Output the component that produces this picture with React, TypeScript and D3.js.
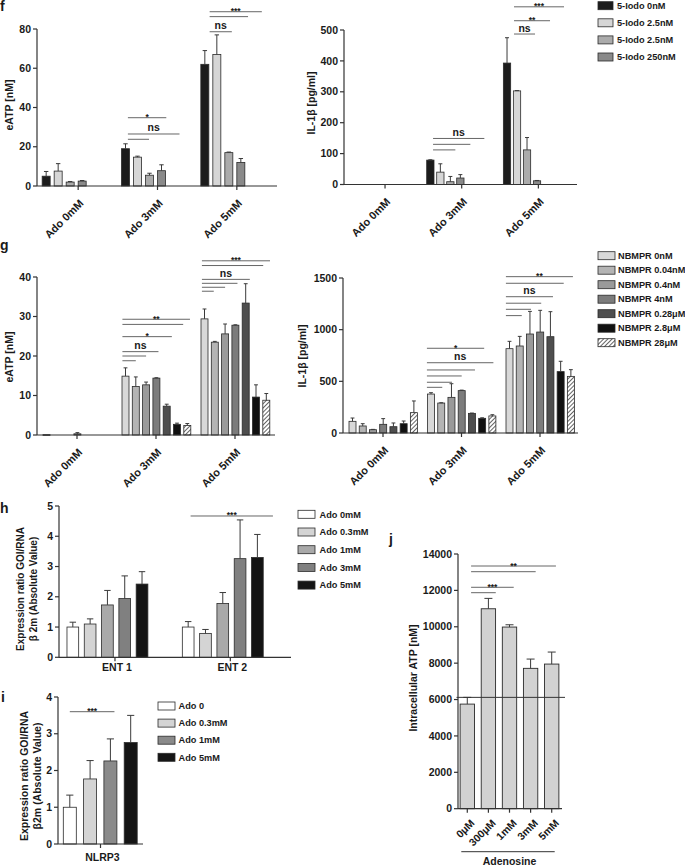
import React from "react";
import * as d3 from "d3";

// ---------------- data ----------------
const fGroups = ["Ado 0mM", "Ado 3mM", "Ado 5mM"];
const fSeries = ["5-Iodo 0nM", "5-Iodo 2.5nM", "5-Iodo 2.5nM", "5-Iodo 250nM"];
const fEatpMean = [
  [5, 7.6, 2, 2.5],
  [19, 14.7, 5.5, 7.8],
  [62, 67, 17, 12],
];
const fEatpErr = [
  [2.4, 3.8, 0.3, 0.3],
  [2.5, 0.5, 1, 3],
  [7, 10, 0.3, 2],
];
const fIl1bMean = [
  [0, 0, 0, 0],
  [79, 40, 9, 21],
  [393, 303, 112, 12],
];
const fIl1bErr = [
  [0, 0, 0, 0],
  [1, 27, 17, 11],
  [82, 1, 40, 1],
];
const fEatpTicks = [0, 20, 40, 60, 80];
const fIl1bTicks = [0, 100, 200, 300, 400, 500];

const gGroups = ["Ado 0mM", "Ado 3mM", "Ado 5mM"];
const gSeries = ["NBMPR 0nM", "NBMPR 0.04nM", "NBMPR 0.4nM", "NBMPR 4nM", "NBMPR 0.28μM", "NBMPR 2.8μM", "NBMPR 28μM"];
const gEatpMean = [
  [0.1, 0, 0, 0.3, 0, 0, 0],
  [14.9, 12.3, 12.7, 14.4, 7.3, 2.7, 2.4],
  [29.4, 23.5, 25.6, 27.8, 33.4, 9.6, 8.8],
];
const gEatpErr = [
  [0, 0, 0, 0.3, 0, 0, 0],
  [2.1, 2.4, 0.7, 0.1, 0.5, 0.3, 0.5],
  [2.5, 0.2, 2.5, 0.1, 4.9, 3.1, 1.7],
];
const gIl1bMean = [
  [113, 68, 32, 84, 61, 90, 197],
  [377, 290, 345, 410, 190, 142, 165],
  [816, 842, 958, 977, 932, 594, 548],
];
const gIl1bErr = [
  [32, 22, 3, 55, 36, 26, 113],
  [13, 3, 132, 5, 3, 5, 12],
  [71, 93, 219, 210, 242, 100, 65],
];
const gEatpTicks = [0, 10, 20, 30, 40];
const gIl1bTicks = [0, 500, 1000, 1500];

const hGroups = ["ENT 1", "ENT 2"];
const hSeries = ["Ado 0mM", "Ado 0.3mM", "Ado 1mM", "Ado 3mM", "Ado 5mM"];
const hMean = [
  [1.0, 1.1, 1.73, 1.94, 2.42],
  [1.0, 0.79, 1.78, 3.26, 3.3],
];
const hErr = [
  [0.16, 0.17, 0.48, 0.75, 0.41],
  [0.18, 0.13, 0.36, 1.28, 0.76],
];
const hTicks = [0, 1, 2, 3, 4, 5];

const iGroups = ["NLRP3"];
const iSeries = ["Ado 0", "Ado 0.3mM", "Ado 1mM", "Ado 5mM"];
const iMean = [[1.0, 1.77, 2.26, 2.76]];
const iErr = [[0.33, 0.5, 0.6, 0.74]];
const iTicks = [0, 1, 2, 3, 4];

const jCategories = ["0μM", "300μM", "1mM", "3mM", "5mM"];
const jMean = [5750, 10990, 9985, 7715, 7950];
const jErr = [370, 570, 125, 510, 660];
const jReference = 6120;
const jTicks = [0, 2000, 4000, 6000, 8000, 10000, 12000, 14000];

type Sig = { g: number; from: number; to: number; level: number; label: string };

const fEatpSig: Sig[] = [
  { g: 1, from: 0.2, to: 3.4, level: 34.8, label: "*" },
  { g: 1, from: 0.2, to: 4.5, level: 26.5, label: "ns" },
  { g: 1, from: 0.2, to: 1.96, level: 23.8, label: "" },
  { g: 2, from: 0.4, to: 4.75, level: 88.8, label: "***" },
  { g: 2, from: 0.4, to: 3.6, level: 86.3, label: "" },
  { g: 2, from: 0.4, to: 2.25, level: 78.6, label: "ns" },
];
const fIl1bSig: Sig[] = [
  { g: 1, from: 0.27, to: 5.4, level: 149, label: "ns" },
  { g: 1, from: 0.27, to: 4.0, level: 130, label: "" },
  { g: 1, from: 0.27, to: 2.5, level: 112, label: "" },
  { g: 2, from: 0.7, to: 5.7, level: 575, label: "***" },
  { g: 2, from: 0.7, to: 4.3, level: 530, label: "**" },
  { g: 2, from: 0.7, to: 2.8, level: 487, label: "ns" },
];
const gEatpSig: Sig[] = [
  { g: 1, from: -0.3, to: 6.26, level: 29.3, label: "**" },
  { g: 1, from: -0.3, to: 5.6, level: 28.0, label: "" },
  { g: 1, from: -0.3, to: 4.5, level: 24.9, label: "*" },
  { g: 1, from: -0.3, to: 3.2, level: 21.1, label: "ns" },
  { g: 1, from: -0.3, to: 2.0, level: 20.0, label: "" },
  { g: 1, from: -0.3, to: 1.0, level: 18.8, label: "" },
  { g: 2, from: -0.25, to: 6.36, level: 44.1, label: "***" },
  { g: 2, from: -0.25, to: 5.7, level: 42.9, label: "" },
  { g: 2, from: -0.25, to: 4.4, level: 39.4, label: "ns" },
  { g: 2, from: -0.25, to: 3.2, level: 38.4, label: "" },
  { g: 2, from: -0.25, to: 2.0, level: 37.4, label: "" },
  { g: 2, from: -0.25, to: 0.9, level: 36.4, label: "" },
];
const gIl1bSig: Sig[] = [
  { g: 1, from: -0.4, to: 5.2, level: 820, label: "*" },
  { g: 1, from: -0.4, to: 6.1, level: 680, label: "ns" },
  { g: 1, from: -0.4, to: 4.3, level: 610, label: "" },
  { g: 1, from: -0.4, to: 3.0, level: 552, label: "" },
  { g: 1, from: -0.4, to: 2.05, level: 491, label: "" },
  { g: 1, from: -0.4, to: 1.1, level: 442, label: "" },
  { g: 2, from: -0.35, to: 6.2, level: 1513, label: "**" },
  { g: 2, from: -0.35, to: 5.3, level: 1449, label: "" },
  { g: 2, from: -0.35, to: 4.25, level: 1319, label: "ns" },
  { g: 2, from: -0.35, to: 3.1, level: 1256, label: "" },
  { g: 2, from: -0.35, to: 2.1, level: 1197, label: "" },
  { g: 2, from: -0.35, to: 1.2, level: 1136, label: "" },
];
const hSig: Sig[] = [{ g: 1, from: 0.14, to: 4.9, level: 4.67, label: "***" }];
const iSig: Sig[] = [{ g: 0, from: 0, to: 2.2, level: 3.6, label: "***" }];
const jSig: Sig[] = [
  { g: 0, from: 0.18, to: 4.2, level: 13340, label: "**" },
  { g: 0, from: 0.18, to: 3.24, level: 13027, label: "" },
  { g: 0, from: 0.18, to: 2.2, level: 12170, label: "***" },
  { g: 0, from: 0.18, to: 1.35, level: 11873, label: "" },
];

// ---------------- styles ----------------
const FONT = "'Liberation Sans', Arial, Helvetica, sans-serif";
const AX = "#333";
const TXT = "#1a1a1a";
const SIGC = "#666";
const fColors = ["#1c1c1c", "#d6d6d6", "#ababab", "#8a8a8a"];
const gColors = ["#d8d8d8", "#b4b4b4", "#9a9a9a", "#7c7c7c", "#4e4e4e", "#111111", "url(#hatch)"];
const hColors = ["#ffffff", "#d4d4d4", "#a9a9a9", "#808080", "#141414"];
const iColors = ["#ffffff", "#d4d4d4", "#8a8a8a", "#141414"];
const jColor = "#d2d2d2";

type PanelProps = {
  groups: string[];
  means: number[][];
  errors: number[][];
  colors: string[];
  ticks: number[];
  yPx: [number, number];
  axisX: number;
  axisEnd: number;
  bandRange: [number, number];
  barOffset: number;
  pitch: number;
  bw: number;
  sig: Sig[];
  titles: string[];
  titleX: number[];
  titleY: number;
  rotated: boolean;
  flatLabelY?: number;
  titleSize?: number;
};

function SigMarks({ sig, xOf, y }: { sig: Sig[]; xOf: (g: number, i: number) => number; y: (v: number) => number }) {
  return (
    <g>
      {sig.map((s, k) => {
        const x1 = xOf(s.g, s.from);
        const x2 = xOf(s.g, s.to);
        const yy = y(s.level);
        const star = s.label.includes("*");
        return (
          <g key={k}>
            <line x1={x1} x2={x2} y1={yy} y2={yy} stroke={SIGC} strokeWidth={1} />
            {s.label && (
              <text
                x={(x1 + x2) / 2}
                y={star ? yy + 2.5 : yy - 2.5}
                textAnchor="middle"
                fontSize={star ? 8.5 : 10.5}
                fill={TXT}
              >
                {s.label}
              </text>
            )}
          </g>
        );
      })}
    </g>
  );
}

function BarPanel(p: PanelProps) {
  const yMax = p.ticks[p.ticks.length - 1];
  const y = d3.scaleLinear().domain([0, yMax]).range(p.yPx);
  const x0 = d3.scaleBand<string>().domain(p.groups).range(p.bandRange).padding(0);
  const cx = (gi: number) => (x0(p.groups[gi]) as number) + x0.bandwidth() / 2;
  const barX = (gi: number, i: number) => cx(gi) + p.barOffset + i * p.pitch;
  const barC = (gi: number, i: number) => barX(gi, i) + p.bw / 2;
  const base = y(0);
  const cap = Math.max(3, p.bw * 0.55);
  return (
    <g>
      {p.means.map((row, gi) =>
        row.map((v, i) => {
          if (v <= 0) return null;
          const e = p.errors[gi][i];
          const xc = barC(gi, i);
          return (
            <g key={`${gi}-${i}`}>
              <rect
                x={barX(gi, i)}
                y={y(v)}
                width={p.bw}
                height={Math.max(0.8, base - y(v))}
                fill={p.colors[i]}
                stroke="#2a2a2a"
                strokeWidth={0.8}
              />
              {e > 0 && (
                <g stroke="#3a3a3a" strokeWidth={1}>
                  <line x1={xc} x2={xc} y1={y(v)} y2={y(v + e)} />
                  <line x1={xc - cap / 2} x2={xc + cap / 2} y1={y(v + e)} y2={y(v + e)} />
                </g>
              )}
            </g>
          );
        })
      )}
      <line x1={p.axisX} x2={p.axisX} y1={base} y2={y(yMax)} stroke={AX} strokeWidth={1.2} />
      <line x1={p.axisX} x2={p.axisEnd} y1={base} y2={base} stroke={AX} strokeWidth={1.2} />
      {p.ticks.map((t) => (
        <g key={t}>
          <line x1={p.axisX - 4} x2={p.axisX} y1={y(t)} y2={y(t)} stroke={AX} strokeWidth={1.2} />
          <text x={p.axisX - 6} y={y(t)} dy="0.35em" textAnchor="end" fontSize={10.5} fill={TXT}>
            {t}
          </text>
        </g>
      ))}
      {p.groups.map((g, gi) => (
        <g key={g}>
          <line x1={cx(gi)} x2={cx(gi)} y1={base} y2={base + 4} stroke={AX} strokeWidth={1.2} />
          {p.rotated ? (
            <text
              transform={`translate(${cx(gi) + 6},${base + 18}) rotate(-45)`}
              textAnchor="end"
              fontSize={11}
              fill={TXT}
            >
              {g}
            </text>
          ) : (
            <text x={cx(gi) + 2} y={p.flatLabelY} textAnchor="middle" fontSize={10.5} fill={TXT}>
              {g}
            </text>
          )}
        </g>
      ))}
      <SigMarks sig={p.sig} xOf={barC} y={y} />
      {p.titles.map((t, k) => (
        <text
          key={k}
          transform={`translate(${p.titleX[k]},${p.titleY}) rotate(-90)`}
          textAnchor="middle"
          dy="0.35em"
          fontSize={p.titleSize ?? 10.5}
          fill={TXT}
        >
          {t}
        </text>
      ))}
    </g>
  );
}

function Legend({
  items,
  colors,
  boxX,
  boxW,
  boxH,
  textX,
  y0,
  step,
}: {
  items: string[];
  colors: string[];
  boxX: number;
  boxW: number;
  boxH: number;
  textX: number;
  y0: number;
  step: number;
}) {
  return (
    <g>
      {items.map((it, k) => {
        const yc = y0 + k * step;
        return (
          <g key={k}>
            <rect x={boxX} y={yc - boxH / 2} width={boxW} height={boxH} fill={colors[k]} stroke="#2a2a2a" strokeWidth={0.8} />
            <text x={textX} y={yc} dy="0.35em" fontSize={9.2} fill={TXT}>
              {it}
            </text>
          </g>
        );
      })}
    </g>
  );
}

function PanelJ() {
  const y = d3.scaleLinear().domain([0, 14000]).range([808.7, 554]);
  const x = d3.scaleBand<string>().domain(jCategories).range([458, 561]).paddingInner(0.32).paddingOuter(0.1);
  const bw = x.bandwidth();
  const base = y(0);
  const center = (i: number) => (x(jCategories[0]) as number) + bw / 2 + i * x.step();
  const axisX = 458;
  return (
    <g>
      {jMean.map((v, i) => {
        const xc = center(i);
        const e = jErr[i];
        return (
          <g key={i}>
            <rect x={xc - bw / 2} y={y(v)} width={bw} height={base - y(v)} fill={jColor} stroke="#2a2a2a" strokeWidth={0.9} />
            <g stroke="#3a3a3a" strokeWidth={1}>
              <line x1={xc} x2={xc} y1={y(v)} y2={y(v + e)} />
              <line x1={xc - 4} x2={xc + 4} y1={y(v + e)} y2={y(v + e)} />
            </g>
          </g>
        );
      })}
      <line x1={axisX - 1.5} x2={565} y1={y(jReference)} y2={y(jReference)} stroke="#333" strokeWidth={1} />
      <line x1={axisX} x2={axisX} y1={base} y2={y(14000)} stroke={AX} strokeWidth={1.2} />
      <line x1={axisX} x2={562} y1={base} y2={base} stroke={AX} strokeWidth={1.2} />
      {jTicks.map((t) => (
        <g key={t}>
          <line x1={axisX - 4} x2={axisX} y1={y(t)} y2={y(t)} stroke={AX} strokeWidth={1.2} />
          <text x={axisX - 6} y={y(t)} dy="0.35em" textAnchor="end" fontSize={10.5} fill={TXT}>
            {t}
          </text>
        </g>
      ))}
      {jCategories.map((c, i) => (
        <g key={c}>
          <line x1={center(i)} x2={center(i)} y1={base} y2={base + 4} stroke={AX} strokeWidth={1.2} />
          <text transform={`translate(${center(i) + 8},${base + 15}) rotate(-45)`} textAnchor="end" fontSize={10.5} fill={TXT}>
            {c}
          </text>
        </g>
      ))}
      <line x1={center(0) - 6} x2={center(4) + 3} y1={851.7} y2={851.7} stroke="#333" strokeWidth={1} />
      <text x={(center(0) + center(4)) / 2} y={865} textAnchor="middle" fontSize={10.5} fill={TXT}>
        Adenosine
      </text>
      <SigMarks sig={jSig} xOf={(_g, i) => center(i)} y={y} />
      <text transform={`translate(413,678) rotate(-90)`} textAnchor="middle" dy="0.35em" fontSize={10.5} fill={TXT}>
        Intracellular ATP [nM]
      </text>
    </g>
  );
}

export default function App() {
  return (
    <svg
      width={685}
      height={867}
      viewBox="0 0 685 867"
      style={{ position: "absolute", left: 0, top: 0, background: "#fff" }}
      fontFamily={FONT}
      fontWeight="bold"
    >
      <defs>
        <pattern id="hatch" patternUnits="userSpaceOnUse" width={3} height={3} patternTransform="rotate(45)">
          <rect width={3} height={3} fill="#fff" />
          <line x1={0} y1={0} x2={0} y2={3} stroke="#111" strokeWidth={1.3} />
        </pattern>
      </defs>
      <rect width={685} height={867} fill="#fff" />

      <text x={0} y={11} fontSize={14} fill={TXT}>f</text>
      <text x={0} y={250} fontSize={14} fill={TXT}>g</text>
      <text x={0} y={513} fontSize={14} fill={TXT}>h</text>
      <text x={1} y={702} fontSize={14} fill={TXT}>i</text>
      <text x={389} y={544} fontSize={14} fill={TXT}>j</text>

      <BarPanel
        groups={fGroups}
        means={fEatpMean}
        errors={fEatpErr}
        colors={fColors}
        ticks={fEatpTicks}
        yPx={[186, 29]}
        axisX={37}
        axisEnd={277}
        bandRange={[38.5, 276.5]}
        barOffset={-36}
        pitch={12}
        bw={8}
        sig={fEatpSig}
        titles={["eATP [nM]"]}
        titleX={[9]}
        titleY={105}
        rotated
      />
      <BarPanel
        groups={fGroups}
        means={fIl1bMean}
        errors={fIl1bErr}
        colors={fColors}
        ticks={fIl1bTicks}
        yPx={[184.5, 30]}
        axisX={344}
        axisEnd={577}
        bandRange={[346.7, 576.7]}
        barOffset={-35}
        pitch={10}
        bw={7.3}
        sig={fIl1bSig}
        titles={["IL-1β [pg/ml]"]}
        titleX={[311]}
        titleY={103}
        rotated
      />
      <Legend items={fSeries} colors={fColors} boxX={598} boxW={15} boxH={8} textX={617} y0={5.7} step={17.1} />

      <BarPanel
        groups={gGroups}
        means={gEatpMean}
        errors={gEatpErr}
        colors={gColors}
        ticks={gEatpTicks}
        yPx={[435, 277]}
        axisX={37}
        axisEnd={275}
        bandRange={[37.5, 274.5]}
        barOffset={-34}
        pitch={10.3}
        bw={7}
        sig={gEatpSig}
        titles={["eATP [nM]"]}
        titleX={[9]}
        titleY={357}
        rotated
      />
      <BarPanel
        groups={gGroups}
        means={gIl1bMean}
        errors={gIl1bErr}
        colors={gColors}
        ticks={gIl1bTicks}
        yPx={[433, 278]}
        axisX={343}
        axisEnd={578}
        bandRange={[343.75, 579.25]}
        barOffset={-34}
        pitch={10.23}
        bw={7}
        sig={gIl1bSig}
        titles={["IL-1β [pg/ml]"]}
        titleX={[302]}
        titleY={356}
        rotated
      />
      <Legend items={gSeries} colors={gColors} boxX={598} boxW={17} boxH={8} textX={618} y0={255.7} step={14.5} />

      <BarPanel
        groups={hGroups}
        means={hMean}
        errors={hErr}
        colors={hColors}
        ticks={hTicks}
        yPx={[657.3, 506]}
        axisX={59}
        axisEnd={291}
        bandRange={[57.3, 288]}
        barOffset={-48}
        pitch={17.3}
        bw={11.7}
        sig={hSig}
        titles={["Expression ratio GOI/RNA", "β 2m (Absolute Value)"]}
        titleX={[20, 33]}
        titleY={589}
        titleSize={10}
        rotated={false}
        flatLabelY={671}
      />
      <Legend items={hSeries} colors={hColors} boxX={298} boxW={17} boxH={8} textX={319.5} y0={514.3} step={17.7} />

      <BarPanel
        groups={iGroups}
        means={iMean}
        errors={iErr}
        colors={iColors}
        ticks={iTicks}
        yPx={[844, 697]}
        axisX={58}
        axisEnd={143}
        bandRange={[58, 143]}
        barOffset={-37.2}
        pitch={20.3}
        bw={13}
        sig={iSig}
        titles={["Expression ratio GOI/RNA", "β2m (Absolute Value)"]}
        titleX={[24, 37]}
        titleY={776}
        rotated={false}
        flatLabelY={860.5}
      />
      <Legend items={iSeries} colors={iColors} boxX={158} boxW={17} boxH={8} textX={178.5} y0={706} step={17.1} />

      <PanelJ />
    </svg>
  );
}
